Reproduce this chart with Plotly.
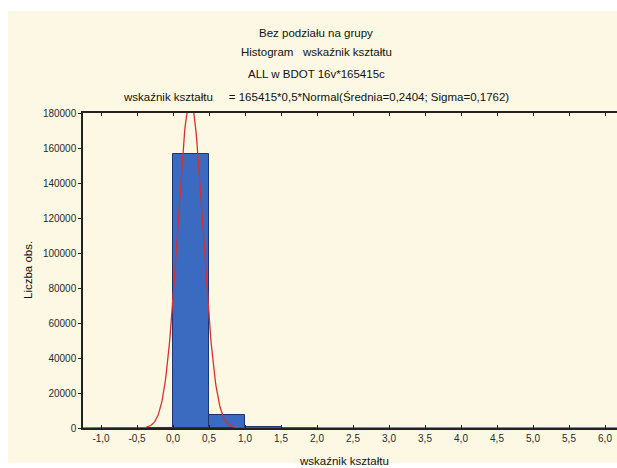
import numpy as np
import plotly.graph_objects as go

# ---- data ----
bin_left = [-1.0, -0.5, 0.0, 0.5, 1.0, 1.5]
counts = [0, 0, 156500, 7700, 700, 120]
bin_width = 0.5
n_total = 165415
mean = 0.2404
sigma = 0.1762

x_tickvals = [-1.0, -0.5, 0.0, 0.5, 1.0, 1.5, 2.0, 2.5, 3.0, 3.5, 4.0, 4.5, 5.0, 5.5, 6.0]
x_ticktext = ["-1,0", "-0,5", "0,0", "0,5", "1,0", "1,5", "2,0", "2,5", "3,0", "3,5",
              "4,0", "4,5", "5,0", "5,5", "6,0"]
y_tickvals = [0, 20000, 40000, 60000, 80000, 100000, 120000, 140000, 160000, 180000]
y_ticktext = ["0", "20000", "40000", "60000", "80000", "100000", "120000", "140000", "160000", "180000"]

title_lines = [
    "Bez podziału na grupy",
    "Histogram   wskaźnik kształtu",
    "ALL w BDOT 16v*165415c",
    "wskaźnik kształtu     = 165415*0,5*Normal(Średnia=0,2404; Sigma=0,1762)",
]
x_title = "wskaźnik kształtu"
y_title = "Liczba obs."

# ---- figure ----
VW, H = 617, 468          # visible window
W = 626                   # figure slightly wider: plot frame continues past the window edge
ML, MR, MT, MB = 83, 0, 113, 40
pw = W - ML - MR
ph = H - MT - MB
font = "Liberation Sans, Arial, sans-serif"
txt = "#2a2a2a"

def px_x(px):
    return (px - ML) / pw

def px_y(py):
    return (H - MB - py) / ph

centers = [b + bin_width / 2 for b in bin_left]

xs = np.linspace(-1.25, 6.3, 900)
ys = n_total * bin_width * np.exp(-0.5 * ((xs - mean) / sigma) ** 2) / (sigma * np.sqrt(2 * np.pi))

fig = go.Figure()
fig.add_trace(go.Bar(
    x=centers, y=counts, width=bin_width,
    marker=dict(color="#3a6bc0", line=dict(color="#1c356e", width=1)),
    showlegend=False, hoverinfo="skip",
))
fig.add_trace(go.Scatter(
    x=xs, y=ys, mode="lines",
    line=dict(color="#d8302e", width=1.3),
    showlegend=False, hoverinfo="skip",
))

shapes = [
    dict(type="rect", xref="paper", yref="paper", layer="below",
         x0=px_x(8), x1=px_x(W + 5), y0=px_y(463), y1=px_y(11),
         fillcolor="#fdf8e3", line=dict(width=0)),
]

annotations = []
title_y = [33, 52, 74, 97]
for t, py in zip(title_lines, title_y):
    annotations.append(dict(
        text=t, xref="paper", yref="paper", x=px_x(316), y=px_y(py),
        xanchor="center", yanchor="middle", showarrow=False,
        font=dict(family=font, size=11.5, color="#111111"),
    ))
annotations.append(dict(
    text=x_title, xref="paper", yref="paper", x=px_x(344), y=px_y(461),
    xanchor="center", yanchor="middle", showarrow=False,
    font=dict(family=font, size=11.5, color="#111111"),
))
annotations.append(dict(
    text=y_title, xref="paper", yref="paper", x=px_x(28), y=px_y(270),
    xanchor="center", yanchor="middle", showarrow=False, textangle=-90,
    font=dict(family=font, size=11.5, color="#111111"),
))

fig.update_layout(
    width=W, height=H,
    margin=dict(l=ML, r=MR, t=MT, b=MB, pad=0),
    paper_bgcolor="white",
    plot_bgcolor="white",
    bargap=0,
    shapes=shapes,
    annotations=annotations,
    font=dict(family=font, size=10, color=txt),
)
fig.update_xaxes(
    range=[-1.25, -1.25 + pw / 72.0],
    tickvals=x_tickvals, ticktext=x_ticktext,
    ticks="inside", ticklen=3, tickcolor="#222", tickwidth=1,
    showline=True, linecolor="#222", linewidth=1.5, mirror="ticks",
    showgrid=False, zeroline=False,
    tickfont=dict(family=font, size=10, color=txt),
)
fig.update_yaxes(
    range=[0, 180000],
    tickvals=y_tickvals, ticktext=y_ticktext,
    ticks="outside", ticklen=3, tickcolor="#222", tickwidth=1,
    showline=True, linecolor="#222", linewidth=1.5,
    showgrid=False, zeroline=False,
    tickfont=dict(family=font, size=10, color=txt),
)

fig.write_html(
    "out.html",
    config={"displayModeBar": False},
    post_script="document.documentElement.style.margin='0';document.body.style.margin='0';"
                "document.body.style.overflow='hidden';document.documentElement.style.overflow='hidden';",
)
